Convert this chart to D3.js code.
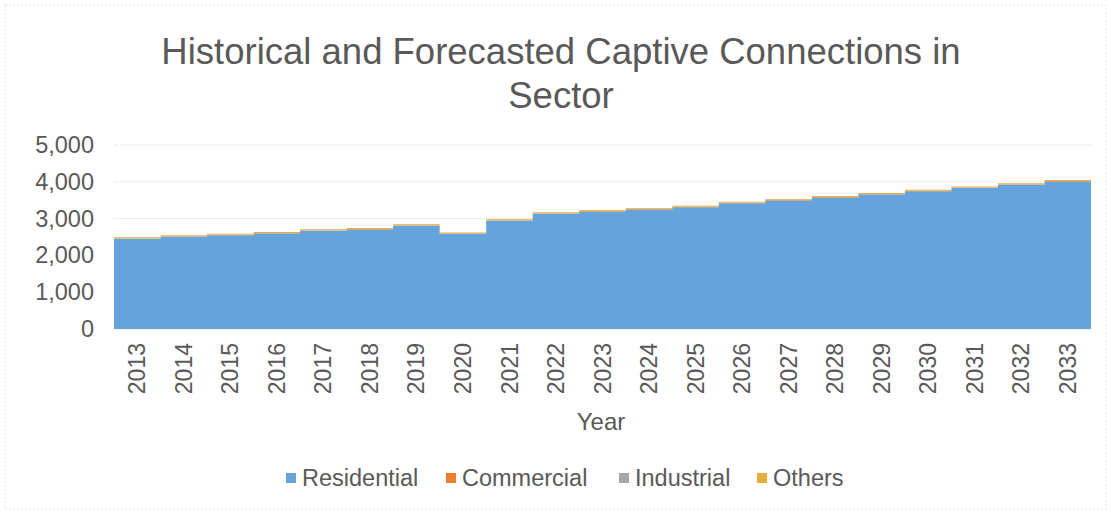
<!DOCTYPE html>
<html>
<head>
<meta charset="utf-8">
<script src="https://cdn.jsdelivr.net/npm/d3@7"></script>
<style>
  body { margin: 0; background: #fff; }
  svg text { font-family: "Liberation Sans", Arial, sans-serif; fill: #595959; }
</style>
</head>
<body>
<svg id="chart" width="1111" height="514"></svg>
<script>
// Data
const years = d3.range(2013, 2034).map(String);
const residential = [2450, 2505, 2550, 2595, 2670, 2705, 2805, 2580, 2940, 3130,
                     3195, 3250, 3310, 3420, 3495, 3575, 3655, 3745, 3830, 3920, 4010];
const commercial  = [10, 10, 10, 10, 10, 10, 10, 10, 10, 10,
                     10, 10, 10, 10, 10, 10, 10, 10, 10, 10, 10];
const industrial  = [5, 5, 5, 5, 5, 5, 5, 5, 5, 5,
                     5, 5, 5, 5, 5, 5, 5, 5, 5, 5, 5];
const others      = [25, 25, 25, 25, 25, 25, 25, 25, 25, 25,
                     25, 25, 25, 25, 25, 25, 25, 25, 25, 25, 25];
const seriesNames = ["Residential", "Commercial", "Industrial", "Others"];
const colors = ["#64a3dc", "#ed7d31", "#a5a5a5", "#e3ae3c"];
const yTicks = [0, 1000, 2000, 3000, 4000, 5000];

const rows = years.map((y, i) => ({
  year: y,
  Residential: residential[i],
  Commercial: commercial[i],
  Industrial: industrial[i],
  Others: others[i]
}));

const svg = d3.select("#chart");
const W = 1111, H = 514;
const m = { left: 114, right: 20, top: 145, bottom: 185 };

// faint frame
svg.append("rect")
  .attr("x", 5).attr("y", 5).attr("width", W - 10).attr("height", H - 10)
  .attr("fill", "#fff").attr("stroke", "#e4e4e4").attr("stroke-dasharray", "2,2");

const x = d3.scaleBand().domain(years).range([m.left, W - m.right]).padding(0);
const y = d3.scaleLinear().domain([0, 5000]).range([H - m.bottom, m.top]);

// gridlines
svg.append("g")
  .selectAll("line")
  .data(yTicks)
  .join("line")
  .attr("x1", m.left).attr("x2", W - m.right)
  .attr("y1", d => y(d)).attr("y2", d => y(d))
  .attr("stroke", "#d9d9d9").attr("stroke-width", 1)
  .attr("stroke-dasharray", "1,1");

const stack = d3.stack().keys(seriesNames);
const layers = stack(rows);

// each year fills its whole band, so emit band start and end
const area = d3.area()
  .x(p => p.x)
  .y0(p => y(p.d[0]))
  .y1(p => y(p.d[1]));

function stepPoints(layer) {
  const pts = [];
  layer.forEach(d => {
    pts.push({ x: x(d.data.year), d: d });
    pts.push({ x: x(d.data.year) + x.bandwidth(), d: d });
  });
  return pts;
}

svg.append("g")
  .selectAll("path")
  .data(layers)
  .join("path")
  .attr("d", l => area(stepPoints(l)))
  .attr("fill", (l, i) => colors[i]);

// y axis labels
const yAxis = svg.append("g")
  .attr("transform", `translate(${m.left - 20},0)`)
  .call(d3.axisLeft(y).tickValues(yTicks).tickFormat(d3.format(",")).tickSize(0).tickPadding(0));
yAxis.select(".domain").remove();
yAxis.selectAll("text")
  .attr("font-size", 23.5)
  .style("font-family", "Liberation Sans, Arial, sans-serif")
  .attr("fill", "#595959");

// x axis labels, rotated
const xAxis = svg.append("g")
  .attr("transform", `translate(0,${H - m.bottom})`)
  .call(d3.axisBottom(x).tickSize(0));
xAxis.select(".domain").remove();
xAxis.selectAll("text")
  .attr("font-size", 23)
  .style("font-family", "Liberation Sans, Arial, sans-serif")
  .attr("fill", "#595959")
  .attr("text-anchor", "end")
  .attr("transform", "rotate(-90)")
  .attr("x", -14)
  .attr("y", 0)
  .attr("dy", "0.35em");

svg.append("text")
  .attr("x", 601)
  .attr("y", 430)
  .attr("text-anchor", "middle")
  .attr("font-size", 24)
  .text("Year");

// title
const title = svg.append("text")
  .attr("text-anchor", "middle")
  .attr("font-size", 36.5);
title.append("tspan").attr("x", 561).attr("y", 64)
  .text("Historical and Forecasted Captive Connections in");
title.append("tspan").attr("x", 561).attr("y", 108)
  .text("Sector");

// legend
const legendX = [286, 446, 619, 757];
const legend = svg.append("g")
  .selectAll("g")
  .data(seriesNames)
  .join("g")
  .attr("transform", (d, i) => `translate(${legendX[i]},478)`);
legend.append("rect")
  .attr("x", 0).attr("y", -5).attr("width", 10).attr("height", 10)
  .attr("fill", (d, i) => colors[i]);
legend.append("text")
  .attr("x", 16).attr("dy", "0.35em")
  .attr("font-size", 23.5)
  .text(d => d);
</script>
</body>
</html>
